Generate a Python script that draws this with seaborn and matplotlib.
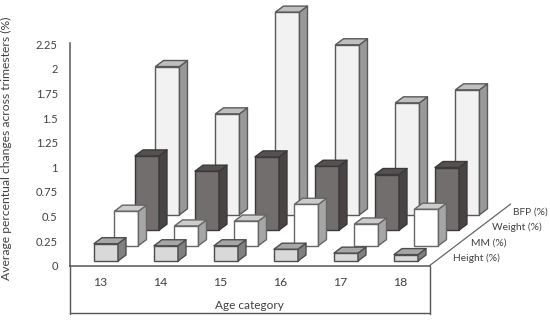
import numpy as np
import matplotlib
matplotlib.use('Agg')
import matplotlib.pyplot as plt
import seaborn as sns

# values (front row first)
ages = ['13', '14', '15', '16', '17', '18']
series_names = ['Height (%)', 'MM (%)', 'Weight (%)', 'BFP (%)']
height_vals = [0.176, 0.155, 0.155, 0.12, 0.08, 0.065]
mm_vals = [0.35, 0.20, 0.25, 0.42, 0.22, 0.37]
weight_vals = [0.755, 0.60, 0.745, 0.65, 0.566, 0.637]
bfp_vals = [1.507, 1.026, 2.06, 1.728, 1.138, 1.27]
y_ticks = [0, 0.25, 0.5, 0.75, 1, 1.25, 1.5, 1.75, 2, 2.25]
y_tick_labels = ['0', '0.25', '0.5', '0.75', '1', '1.25', '1.5', '1.75', '2', '2.25']

# colours per series: front, side, top, edge
styles = [
    ('#d9d9d9', '#808080', '#a6a6a6', '#4d4d4d'),
    ('#ffffff', '#a6a6a6', '#cccccc', '#666666'),
    ('#736e6e', '#4a4343', '#575050', '#3a3a3a'),
    ('#f2f2f2', '#999999', '#bfbfbf', '#595959'),
]

sns.set_theme(style='white')
plt.rcParams['font.family'] = ['Lato', 'DejaVu Sans']
text_col = '#404040'

fig = plt.figure(figsize=(5.5, 3.21), dpi=100)
W, H = 550, 321
left, right, top, base = 69.5, 545, 2, 265.7
ax = fig.add_axes([left / W, 1 - base / H, (right - left) / W, (base - top) / H])

px_x = 60.0     # pixels per category
px_y = 98.4     # pixels per unit of value

# oblique depth, in data units
row_dx, row_dy = 20.5 / px_x, 15.4 / px_y
bar_dx, bar_dy = 8 / px_x, 6 / px_y
x0, y0 = 0.608, 4.7 / px_y

all_vals = [height_vals, mm_vals, weight_vals, bfp_vals]
idx = np.arange(len(ages))

# back row first so the nearer ones cover it
for r in [3, 2, 1, 0]:
    front, side, roof, edge = styles[r]
    bottom = y0 + r * row_dy
    n_before = len(ax.patches)
    sns.barplot(x=idx + x0 + r * row_dx, y=np.array(all_vals[r]), native_scale=True,
                width=0.4, bottom=bottom, color=front, saturation=1,
                edgecolor=edge, linewidth=1.0, ax=ax, zorder=2 + (3 - r) * 2)
    for p in ax.patches[n_before:len(ax.patches)]:
        xa, xb = p.get_x(), p.get_x() + p.get_width()
        ya, yb = p.get_y(), p.get_y() + p.get_height()
        z = p.get_zorder()
        ax.fill([xb, xb + bar_dx, xb + bar_dx, xb], [ya, ya + bar_dy, yb + bar_dy, yb],
                fc=side, ec=edge, lw=1.0, zorder=z, joinstyle='round')
        ax.fill([xa, xa + bar_dx, xb + bar_dx, xb], [yb, yb + bar_dy, yb + bar_dy, yb],
                fc=roof, ec=edge, lw=1.0, zorder=z, joinstyle='round')

ax.set_xlim(0, (right - left) / px_x)
ax.set_ylim(0, (base - top) / px_y)

ax.set_yticks(y_ticks)
ax.set_yticklabels(y_tick_labels, fontsize=8, color=text_col)
ax.set_xticks(idx + 0.508)
ax.set_xticklabels(ages, fontsize=8.8, color=text_col)
ax.tick_params(axis='both', length=0)
ax.tick_params(axis='x', pad=8)
ax.tick_params(axis='y', pad=8.5)
ax.set_xlabel('')

sns.despine(ax=ax, top=True, right=True)
for s in ['left', 'bottom']:
    ax.spines[s].set_color('#555555')
    ax.spines[s].set_linewidth(1.1)
ax.spines['left'].set_bounds(0, 2.263)
ax.spines['bottom'].set_bounds(0, 6)

ax.set_ylabel('Average percentual changes across trimesters (%)', fontsize=8.7, color=text_col)
ax.yaxis.set_label_coords(-57.5 / (right - left), (base - 148) / (base - top))

# table under the axis and the floor edge
low = -47 / px_y
line_kw = dict(color='#555555', lw=1.0, clip_on=False)
ax.plot([0, 0], [0, low - 1.5 / px_y], **line_kw)
ax.plot([6, 6], [0, low - 1.5 / px_y], **line_kw)
ax.plot([0, 6], [low, low], **line_kw)
ax.plot([6, 7.353], [0, 0.627], color='#666666', lw=0.9, clip_on=False)
ax.text(2.99, -0.405, 'Age category', fontsize=8.5, color=text_col, ha='center', va='center')

# depth axis labels
label_pos = [(6.79, 0.078), (6.99, 0.227), (7.46, 0.393), (7.68, 0.545)]
for name, (lx, ly) in zip(series_names, label_pos):
    ax.text(lx, ly, name, fontsize=7.4, color=text_col, ha='center', va='center', clip_on=False)

fig.savefig('out.png', dpi=100)
